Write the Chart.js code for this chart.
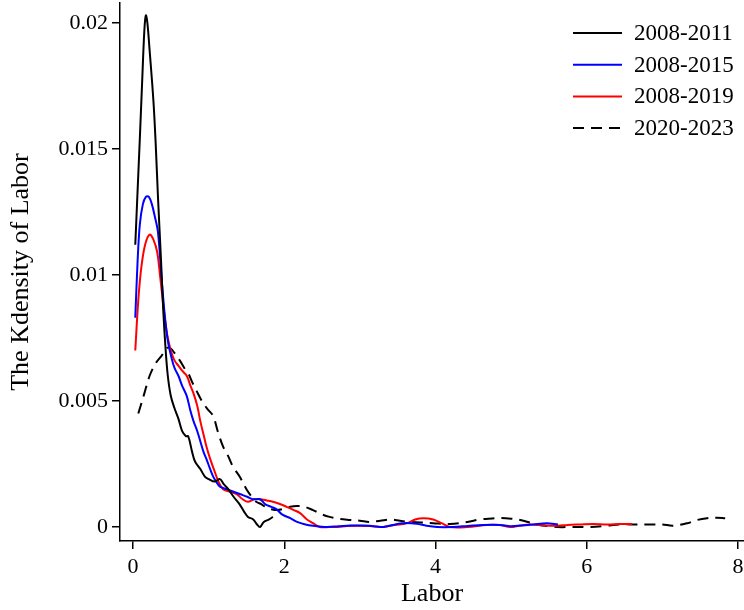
<!DOCTYPE html>
<html>
<head>
<meta charset="utf-8">
<script src="https://cdn.jsdelivr.net/npm/chart.js@4.4.1/dist/chart.umd.min.js"></script>
<style>
  html, body { margin: 0; padding: 0; background: #fff; }
  #wrap { width: 744px; height: 610px; position: relative; }
</style>
</head>
<body>
<div id="wrap"><canvas id="kd"></canvas></div>
<script>
// données
const seriesLabels = ['2008-2011', '2008-2015', '2008-2019', '2020-2023'];
const xTicks = [0, 2, 4, 6, 8];
const yTicks = [0, 0.005, 0.01, 0.015, 0.02];

const x2011 = [0.03,0.06,0.09,0.12,0.15,0.17,0.19,0.22,0.27,0.30,0.33,0.37,0.40,0.43,0.46,0.50,0.55,0.60,0.65,0.70,0.73,0.78,0.82,0.89,0.95,1.00,1.08,1.15,1.20,1.26,1.33,1.41,1.47,1.52,1.59,1.64,1.68,1.73,1.80,1.85];
const y2011 = [0.0112,0.0133,0.0154,0.0176,0.0197,0.0203,0.0200,0.0189,0.0169,0.0152,0.0131,0.0106,0.0086,0.0071,0.0060,0.0052,0.0047,0.0043,0.0038,0.0036,0.0036,0.0030,0.0026,0.0023,0.0020,0.0019,0.0018,0.0019,0.0017,0.0015,0.0012,0.0009,0.0006,0.0004,0.0003,0.0001,0.0000,0.0002,0.0003,0.0004];

const x2015 = [0.03,0.06,0.09,0.13,0.17,0.21,0.25,0.29,0.33,0.38,0.42,0.46,0.51,0.55,0.60,0.65,0.71,0.76,0.80,0.85,0.89,0.93,0.97,1.02,1.06,1.10,1.15,1.24,1.33,1.42,1.51,1.59,1.68,1.75,1.83,1.90,1.97,2.08,2.17,2.28,2.38,2.56,2.72,2.87,3.00,3.13,3.22,3.31,3.44,3.57,3.75,3.88,4.02,4.23,4.43,4.63,4.85,4.99,5.14,5.29,5.47,5.62];
const y2015 = [0.0083,0.0105,0.0120,0.0128,0.0131,0.0131,0.0128,0.0123,0.0117,0.0098,0.0084,0.0074,0.0067,0.0063,0.0060,0.0056,0.0052,0.0046,0.0042,0.0038,0.0034,0.0030,0.0027,0.0023,0.0020,0.0018,0.0016,0.0015,0.0014,0.0013,0.0012,0.0011,0.0011,0.0009,0.0008,0.0007,0.0005,0.00035,0.0002,0.0001,0.00005,0.0,0.00003,0.00006,0.00006,0.00005,0.00002,0.0,0.00008,0.00015,0.00013,0.00005,0.0,0.0,0.00004,0.00008,0.00008,0.00003,0.00006,0.0001,0.00015,0.0001];

const x2019 = [0.03,0.07,0.11,0.16,0.22,0.27,0.32,0.36,0.42,0.46,0.51,0.55,0.60,0.65,0.71,0.76,0.80,0.85,0.89,0.93,0.97,1.02,1.08,1.13,1.19,1.28,1.37,1.45,1.52,1.60,1.68,1.77,1.85,1.95,2.03,2.12,2.21,2.30,2.38,2.47,2.60,2.70,2.83,2.96,3.13,3.31,3.46,3.62,3.73,3.84,3.97,4.08,4.19,4.42,4.68,4.85,4.99,5.12,5.25,5.45,5.61,5.75,5.91,6.08,6.27,6.44,6.60];
const y2019 = [0.0070,0.0090,0.0103,0.0112,0.0116,0.0114,0.0109,0.0099,0.0083,0.0075,0.0069,0.0066,0.0064,0.0062,0.0060,0.0056,0.0053,0.0048,0.0042,0.0037,0.0032,0.0027,0.0022,0.0018,0.0015,0.0014,0.0013,0.0011,0.0010,0.0011,0.0011,0.00105,0.0010,0.0009,0.0008,0.00068,0.00055,0.0003,0.00015,0.0,0.0,0.0,0.00004,0.00005,0.00004,0.0,0.00008,0.00015,0.0003,0.00035,0.0003,0.00015,0.0,0.0,0.00008,0.00008,0.0,0.00006,0.0001,0.00006,0.00005,0.00008,0.0001,0.00012,0.0001,0.00012,0.00012];

const x2023 = [0.07,0.15,0.22,0.30,0.38,0.45,0.49,0.55,0.62,0.68,0.73,0.79,0.84,0.91,0.98,1.06,1.12,1.19,1.26,1.32,1.41,1.50,1.57,1.63,1.70,1.77,1.83,1.90,1.99,2.08,2.17,2.25,2.38,2.50,2.60,2.73,2.87,3.00,3.13,3.27,3.40,3.53,3.66,3.80,3.97,4.19,4.42,4.59,4.75,4.85,5.00,5.12,5.34,5.61,5.80,6.04,6.24,6.44,6.64,6.84,7.00,7.14,7.33,7.46,7.59,7.72,7.83];
const y2023 = [0.0045,0.0053,0.0060,0.0065,0.0068,0.0071,0.0071,0.0069,0.0066,0.0063,0.0061,0.0057,0.0054,0.0050,0.0047,0.0044,0.0038,0.0032,0.0028,0.0024,0.0020,0.0015,0.0012,0.0010,0.0009,0.00075,0.0007,0.00067,0.00072,0.0008,0.00083,0.00082,0.00067,0.0005,0.0004,0.00032,0.00028,0.00025,0.0002,0.00025,0.0003,0.00025,0.0002,0.00018,0.00015,0.00012,0.0002,0.0003,0.00034,0.00036,0.00033,0.00028,0.0001,0.0,0.0,0.0,0.00004,0.0001,0.0001,0.0001,0.0001,0.00005,0.00015,0.00028,0.00035,0.00037,0.00035];

const serif = "'Liberation Serif', 'Times New Roman', serif";

function toPoints(xs, ys) {
    return xs.map((x, i) => ({ x: x, y: ys[i] }));
}

function makeSet(label, xs, ys, color, dash) {
    return {
        label: label,
        data: toPoints(xs, ys),
        borderColor: color,
        borderWidth: 2,
        borderDash: dash,
        showLine: true,
        pointRadius: 0,
        tension: 0.35,
        fill: false
    };
}

// légende dessinée dans la zone du graphique (en haut à droite)
const legendInside = {
    id: 'legendInside',
    afterDraw(chart) {
        const ctx = chart.ctx;
        ctx.save();
        ctx.font = '23px ' + serif;
        ctx.textBaseline = 'middle';
        ctx.fillStyle = '#000';
        chart.data.datasets.forEach((ds, i) => {
            const y = 33 + i * 31.7;
            ctx.beginPath();
            ctx.strokeStyle = ds.borderColor;
            ctx.lineWidth = 2;
            ctx.setLineDash(ds.borderDash || []);
            ctx.moveTo(573, y);
            ctx.lineTo(622, y);
            ctx.stroke();
            ctx.setLineDash([]);
            ctx.fillText(ds.label, 634, y + 1);
        });
        ctx.restore();
    }
};

const canvas = document.getElementById('kd');
const chart = new Chart(canvas, {
    type: 'scatter',
    data: {
        datasets: [
            makeSet(seriesLabels[0], x2011, y2011, '#000000', []),
            makeSet(seriesLabels[1], x2015, y2015, '#0000ff', []),
            makeSet(seriesLabels[2], x2019, y2019, '#ff0000', []),
            makeSet(seriesLabels[3], x2023, y2023, '#000000', [11, 7])
        ]
    },
    options: {
        responsive: true,
        maintainAspectRatio: false,
        animation: false,
        layout: { padding: { top: 3, right: 0, bottom: 0, left: 0 } },
        plugins: {
            legend: { display: false },
            tooltip: { enabled: false }
        },
        scales: {
            x: {
                type: 'linear',
                min: -0.172,
                max: 8.079,
                afterBuildTicks: (scale) => { scale.ticks = xTicks.map(v => ({ value: v })); },
                afterFit: (scale) => { scale.height = 69; scale.paddingLeft = 0; scale.paddingRight = 0; },
                grid: { drawOnChartArea: false, drawTicks: true, tickLength: 8, color: '#000', lineWidth: 1.5 },
                border: { display: true, color: '#000', width: 1.5 },
                ticks: { color: '#000', padding: 5, maxRotation: 0, font: { family: serif, size: 22 }, callback: (v) => String(v) },
                title: { display: true, text: 'Labor', color: '#000', padding: { top: 0, bottom: 0 }, font: { family: serif, size: 26 } }
            },
            y: {
                type: 'linear',
                min: -0.000556,
                max: 0.02079,
                afterBuildTicks: (scale) => { scale.ticks = yTicks.map(v => ({ value: v })); },
                afterFit: (scale) => { scale.width = 120; scale.paddingTop = 0; scale.paddingBottom = 0; },
                grid: { drawOnChartArea: false, drawTicks: true, tickLength: 8, color: '#000', lineWidth: 1.5 },
                border: { display: true, color: '#000', width: 1.5 },
                ticks: { color: '#000', padding: 4, font: { family: serif, size: 22 }, callback: (v) => String(v) },
                title: { display: true, text: 'The Kdensity of Labor', color: '#000', padding: { top: 6, bottom: 0 }, font: { family: serif, size: 26 } }
            }
        }
    },
    plugins: [legendInside]
});
</script>
</body>
</html>
